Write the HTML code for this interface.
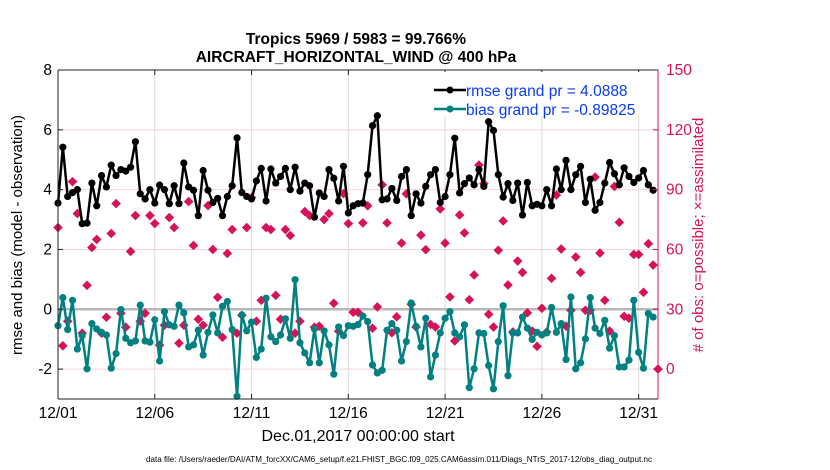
<!DOCTYPE html>
<html><head><meta charset="utf-8"><style>
body{margin:0;background:#fff;}
svg{display:block;font-family:"Liberation Sans",sans-serif;}
</style></head><body>
<svg id="chart" width="830" height="470" viewBox="0 0 830 470" xmlns="http://www.w3.org/2000/svg">
<text x="356" y="44" text-anchor="middle" font-size="15.5" font-weight="bold">Tropics 5969 / 5983 = 99.766%</text>
<text x="356" y="62" text-anchor="middle" font-size="15.5" font-weight="bold">AIRCRAFT_HORIZONTAL_WIND @ 400 hPa</text>
<g id="grid"></g>
<g id="plot"></g>
<g id="axes"></g>
<text transform="translate(22,235) rotate(-90)" text-anchor="middle" font-size="15">rmse and bias (model - observation)</text>
<text transform="translate(703,235) rotate(-90)" text-anchor="middle" font-size="15" fill="#d6135a"># of obs: o=possible; ×=assimilated</text>
<text x="358" y="441" text-anchor="middle" font-size="16">Dec.01,2017 00:00:00 start</text>
<text x="399" y="462" text-anchor="middle" font-size="8" textLength="506" lengthAdjust="spacingAndGlyphs">data file: /Users/raeder/DAI/ATM_forcXX/CAM6_setup/f.e21.FHIST_BGC.f09_025.CAM6assim.011/Diags_NTrS_2017-12/obs_diag_output.nc</text>
<g>
<rect x="428" y="72" width="222" height="44" fill="#fff"/>
<line x1="434" y1="90" x2="466" y2="90" stroke="#000" stroke-width="2.5"/>
<circle cx="450" cy="90" r="3.5" fill="#000"/>
<text x="466" y="96" font-size="15.5" fill="#0a3cf5">rmse grand pr = 4.0888</text>
<line x1="434" y1="109" x2="466" y2="109" stroke="#008080" stroke-width="2.5"/>
<circle cx="450" cy="109" r="3.5" fill="#008080"/>
<text x="466" y="115" font-size="15.5" fill="#0a3cf5">bias grand pr = -0.89825</text>
</g>
</svg>
<script>
const rmse=[3.55,5.42,3.77,3.9,4.0,2.86,2.88,4.22,3.46,4.47,4.09,4.82,4.47,4.67,4.62,4.75,5.6,3.86,3.69,4.0,3.55,4.15,4.0,3.53,4.13,3.53,4.89,4.09,3.98,3.13,4.64,3.98,3.57,3.71,3.13,3.77,4.13,5.73,3.9,3.77,3.69,4.29,4.71,3.62,4.69,4.22,4.44,4.71,4.0,4.75,3.95,4.22,4.13,3.08,3.89,3.77,4.67,4.38,3.62,4.78,3.22,3.46,3.53,3.55,4.5,6.14,6.47,3.66,3.69,4.04,3.64,4.44,4.67,3.13,3.86,3.55,4.11,4.5,4.67,3.57,3.77,4.5,5.72,3.89,4.2,4.39,4.16,4.67,4.11,6.27,5.98,4.5,3.75,4.2,3.64,4.22,3.15,4.24,3.46,3.51,3.46,4.0,3.46,4.69,4.0,4.98,4.0,4.5,4.78,3.57,4.35,3.31,3.57,4.22,4.91,4.53,4.16,4.73,4.44,4.24,4.39,4.64,4.16,3.98];
const bias=[-0.55,0.39,-0.68,0.30,-1.33,-0.88,-1.99,-0.48,-0.66,-0.77,-0.86,-1.97,-1.48,-0.01,-0.97,-1.12,-1.06,0.14,-1.06,-1.1,-0.35,-1.73,-0.08,-0.52,-0.57,0.14,-0.12,-1.26,-1.19,-0.7,-1.53,-0.77,-0.19,-0.79,0.10,0.26,-0.68,-2.91,-0.19,-0.72,-0.43,-1.61,-1.33,0.37,-0.92,-1.08,-0.86,-0.32,-0.97,0.99,-1.12,-1.46,-1.79,-0.66,-1.79,-0.72,-1.19,-2.17,-0.59,-0.88,-0.55,-0.57,-0.51,-0.23,-0.41,-1.86,-2.13,-2.04,-0.7,-0.48,-0.7,-1.73,-1.08,0.21,-0.57,-1.26,-0.3,-2.26,-1.53,-0.79,-0.3,-0.08,-0.79,-0.92,-0.52,-2.62,-1.99,-0.79,-0.81,-1.88,-2.66,-1.08,0.12,-2.22,-0.79,-0.79,-0.26,-0.63,-1.01,-0.77,-0.86,-0.79,0.06,-0.77,-0.48,-1.68,0.41,-1.99,-1.79,-0.99,0.39,-0.63,-0.81,-0.37,-1.3,-0.88,-1.93,-1.93,-1.7,0.3,-1.44,-1.97,-0.14,-0.26];
const nobs=[71,11.7,24,94,78,18,42,61,65,18,26,68,83,28,21,59,77,24,28,77,73,12,22,76,71,13,22,84,62,25,22,82,60,36,16,58,70,18,27,71,86,24,34.5,71,70,37,25,70,67,18,24,79,77,21,21.5,75,78,33,19,88,73,28.5,28.5,73.3,81.9,20.5,31.2,92.4,73.3,18.2,26.2,63.2,87.9,32.5,21.1,67.2,59.9,22.4,21.1,80.3,63.2,36.2,14.1,77.3,68.3,34.8,47.2,102.3,93,27.5,21.1,59.6,74.3,42.2,18.6,54.2,48.5,28.2,19.1,11.4,30.5,18.6,45.5,87.3,60.2,21.5,29.5,56.2,48.5,29.5,29.5,96.3,58.2,34.5,19.1,91.6,73.6,26.5,25.5,57.5,57.5,38.5,62.9,52.2,0];
const xTickLabels=["12/01","12/06","12/11","12/16","12/21","12/26","12/31"];
const leftTicks=[-2,0,2,4,6,8];
const rightTicks=[0,30,60,90,120,150];
const stepDays=0.25;

const L=58,R=658,T=70,B=399,D0=0,D1=31;
const xS=d=>L+(d-D0)/(D1-D0)*(R-L);
const yL=v=>T+(8-v)/(8-(-3))*(B-T);
const yR=r=>yL(-2)+(yL(8)-yL(-2))*r/150;
const NS="http://www.w3.org/2000/svg";
function mk(tag,attrs,parent){const e=document.createElementNS(NS,tag);for(const k in attrs)e.setAttribute(k,attrs[k]);parent.appendChild(e);return e;}
const grid=document.getElementById('grid'),plot=document.getElementById('plot'),axes=document.getElementById('axes');
xTickLabels.forEach((t,i)=>{const x=xS(i*5);
 const g=mk('line',{x1:x,x2:x,y1:T,y2:B,stroke:'#dcdcdc','stroke-width':1},grid);
 
 const lab=mk('text',{x:x,y:B+19,'text-anchor':'middle','font-size':15.5},axes);lab.textContent=t;
 
 mk('line',{x1:x,x2:x,y1:B,y2:B-5,stroke:'#222'},axes);mk('line',{x1:x,x2:x,y1:T,y2:T+5,stroke:'#222'},axes);
});
rightTicks.forEach(r=>{const y=yR(r);
 const g=mk('line',{x1:L,x2:R,y1:y,y2:y,stroke:'#f0d4dc','stroke-width':1},grid);
 
 const lab=mk('text',{x:R+8,y:y+5,'font-size':15.5,fill:'#d6135a'},axes);lab.textContent=r;
 
 mk('line',{x1:R,x2:R-5,y1:y,y2:y,stroke:'#d6135a'},axes);
});
leftTicks.forEach(v=>{const y=yL(v);
 const lab=mk('text',{x:L-6,y:y+5,'text-anchor':'end','font-size':15.5},axes);lab.textContent=v;
 
 mk('line',{x1:L,x2:L+5,y1:y,y2:y,stroke:'#222'},axes);
});
const z=mk('line',{x1:L,x2:R,y1:yL(0),y2:yL(0),stroke:'#b8b8b8','stroke-width':2.5},grid);

nobs.forEach((r,i)=>{const x=xS(i*stepDays),y=yR(r);
 const m=mk('rect',{x:x-3.4,y:y-3.4,width:6.8,height:6.8,fill:'#d6135a',transform:`rotate(45 ${x} ${y})`},plot);
 
});
function series(vals,color,name){
 const pts=vals.map((v,i)=>xS(i*stepDays)+','+yL(v)).join(' ');
 const pl=mk('polyline',{points:pts,fill:'none',stroke:color,'stroke-width':2.5,'stroke-linejoin':'round'},plot);
 
 vals.forEach((v,i)=>{const c=mk('circle',{cx:xS(i*stepDays),cy:yL(v),r:3.6,fill:color},plot);
  });
}
series(rmse,'#000','rmse');
series(bias,'#008080','bias');
mk('line',{x1:L,x2:R,y1:B,y2:B,stroke:'#222'},axes);
mk('line',{x1:L,x2:R,y1:T,y2:T,stroke:'#222'},axes);
mk('line',{x1:L,x2:L,y1:T,y2:B,stroke:'#222'},axes);
mk('line',{x1:R,x2:R,y1:T,y2:B,stroke:'#d6135a'},axes);
</script>
</body></html>
